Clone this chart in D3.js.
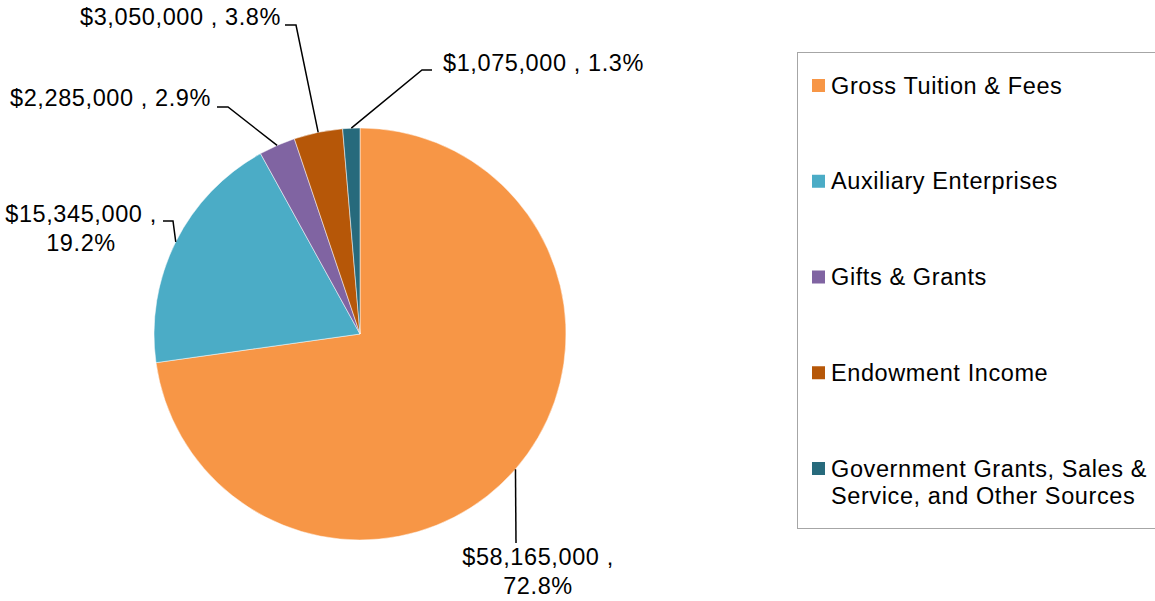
<!DOCTYPE html>
<html>
<head>
<meta charset="utf-8">
<script src="https://cdn.jsdelivr.net/npm/d3@7"></script>
<style>
  body { margin: 0; background: #fff; }
  text { font-family: "Liberation Sans", Arial, sans-serif; fill: #000; letter-spacing: 0.6px; }
</style>
</head>
<body>
<svg id="chart" width="1155" height="601"></svg>
<script>
// data
var categories = ["Gross Tuition & Fees", "Auxiliary Enterprises", "Gifts & Grants", "Endowment Income", "Government Grants, Sales & Service, and Other Sources"]
var legendLines = [["Gross Tuition & Fees"], ["Auxiliary Enterprises"], ["Gifts & Grants"], ["Endowment Income"], ["Government Grants, Sales &", "Service, and Other Sources"]]
var values = [58165000, 15345000, 2285000, 3050000, 1075000]
var colors = ["#F79646", "#4BACC6", "#8064A2", "#B65708", "#276A7C"]

// label layout (text anchor, elbow, end of the leader line)
var labelLayout = [
  { x: 538, y: 565, anchor: "middle", lines: 2, elbow: null, end: [516, 543] },
  { x: 81, y: 222, anchor: "middle", lines: 2, elbow: [173, 221], end: [163, 221] },
  { x: 211, y: 106, anchor: "end", lines: 1, elbow: [228, 107], end: [217, 107] },
  { x: 281, y: 25, anchor: "end", lines: 1, elbow: [296, 25], end: [285, 25] },
  { x: 443, y: 71, anchor: "start", lines: 1, elbow: [422, 70], end: [432, 70] }
]

var svg = d3.select("#chart")
var cx = 360, cy = 334, radius = 206
var fontSize = 23.5

var total = d3.sum(values)
var fmtMoney = d3.format("$,")

var pie = d3.pie().sort(null).value(function(d) { return d })
var arcs = pie(values)
var arc = d3.arc().innerRadius(0).outerRadius(radius)

var g = svg.append("g").attr("transform", "translate(" + cx + "," + cy + ")")

g.selectAll(".slice").data(arcs).enter().append("path")
  .attr("class", "slice")
  .attr("d", arc)
  .attr("fill", function(d, i) { return colors[i] })
  .attr("stroke", "#fff")
  .attr("stroke-width", 0.5)

// leader lines
svg.selectAll(".leader").data(arcs).enter().append("path")
  .attr("class", "leader")
  .attr("fill", "none")
  .attr("stroke", "#000")
  .attr("stroke-width", 1.5)
  .attr("d", function(d, i) {
    var mid = (d.startAngle + d.endAngle) / 2
    var p0 = [cx + radius * Math.sin(mid), cy - radius * Math.cos(mid)]
    var L = labelLayout[i]
    var pts = [p0]
    if (L.elbow) pts.push(L.elbow)
    pts.push(L.end)
    return d3.line()(pts)
  })

// data labels
svg.selectAll(".dlabel").data(arcs).enter().append("text")
  .attr("class", "dlabel")
  .attr("font-size", fontSize)
  .attr("text-anchor", function(d, i) { return labelLayout[i].anchor })
  .each(function(d, i) {
    var L = labelLayout[i]
    var money = fmtMoney(d.data)
    var pct = (d.data / total * 100).toFixed(1) + "%"
    var t = d3.select(this)
    if (L.lines == 2) {
      t.append("tspan").attr("x", L.x).attr("y", L.y).text(money + " ,")
      t.append("tspan").attr("x", L.x).attr("y", L.y + 29).text(pct)
    } else {
      t.append("tspan").attr("x", L.x).attr("y", L.y).text(money + " , " + pct)
    }
  })

// legend
var legend = svg.append("g")
legend.append("rect")
  .attr("x", 797.5).attr("y", 52.5)
  .attr("width", 400).attr("height", 476)
  .attr("fill", "#fff")
  .attr("stroke", "#a6a6a6")
  .attr("stroke-width", 1)

var rowY = d3.scaleLinear().domain([0, categories.length - 1]).range([85.5, 468.5])

var item = legend.selectAll(".item").data(categories).enter().append("g")
  .attr("class", "item")
item.append("rect")
  .attr("x", 812).attr("width", 13).attr("height", 13)
  .attr("y", function(d, i) { return rowY(i) - 6.5 })
  .attr("fill", function(d, i) { return colors[i] })
item.append("text")
  .attr("font-size", fontSize)
  .each(function(d, i) {
    var t = d3.select(this)
    legendLines[i].forEach(function(line, k) {
      t.append("tspan").attr("x", 831).attr("y", rowY(i) + 8 + k * 27).text(line)
    })
  })
</script>
</body>
</html>
